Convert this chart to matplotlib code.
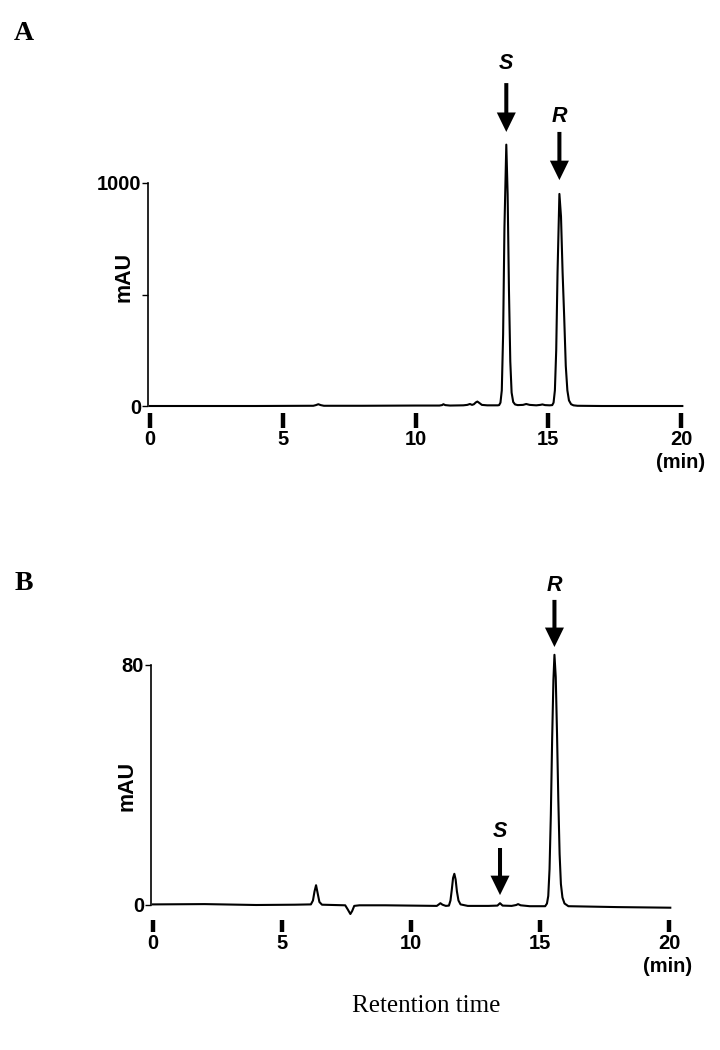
import matplotlib
matplotlib.use("Agg")
import matplotlib.pyplot as plt

# ---------------- data ----------------
# Panel A chromatogram: retention time (min) and absorbance (mAU)
a_time = [0.00, 2.0, 4.0, 6.0, 6.15, 6.25, 6.34, 6.43, 6.55, 8.0, 10.0, 10.9,
          11.0, 11.05, 11.12, 11.3, 11.8, 11.95, 12.05, 12.13, 12.2, 12.27,
          12.33, 12.4, 12.5, 12.7, 12.95, 13.10, 13.15, 13.20, 13.25, 13.30,
          13.35, 13.42, 13.47, 13.52, 13.57, 13.62, 13.68, 13.75, 13.85,
          14.05, 14.17, 14.3, 14.55, 14.7, 14.78, 14.88, 15.05, 15.15, 15.20,
          15.25, 15.30, 15.35, 15.42, 15.48, 15.54, 15.60, 15.66, 15.72,
          15.78, 15.86, 15.95, 16.1, 17.0, 18.5, 20.05]
a_mau = [0, 0, 0, 1, 1, 4, 8, 4, 1, 1, 2, 2,
         4, 8, 4, 2, 3, 5, 9, 5, 8, 16,
         20, 14, 5, 3, 3, 3, 4, 15, 70, 320,
         800, 1172, 950, 520, 200, 60, 18, 7, 4,
         5, 9, 5, 3, 5, 7, 4, 3, 4, 15,
         70, 250, 600, 951, 850, 600, 400, 180, 70,
         25, 8, 3, 1, 0, 0, 0]

# Panel B chromatogram
b_time = [0.00, 2.0, 4.0, 5.5, 6.12, 6.2, 6.26, 6.32, 6.38, 6.45, 6.55, 7.0,
          7.45, 7.55, 7.65, 7.72, 7.8, 8.0, 9.0, 10.0, 11.0, 11.08, 11.14,
          11.22, 11.35, 11.47, 11.53, 11.58, 11.63, 11.68, 11.73, 11.78,
          11.84, 11.92, 12.2, 13.0, 13.35, 13.45, 13.55, 13.9, 14.08, 14.15,
          14.25, 14.6, 15.2, 15.27, 15.32, 15.37, 15.42, 15.47, 15.52, 15.56,
          15.61, 15.66, 15.71, 15.76, 15.81, 15.87, 15.95, 16.1, 18.0, 20.05]
b_mau = [0.2, 0.3, 0.0, 0.1, 0.2, 1.5, 4.5, 6.6, 4.0, 1.0, 0.1, 0.0,
         -0.1, -1.5, -3.0, -2.0, -0.3, -0.1, -0.1, -0.2, -0.3, 0.2, 0.6,
         0.1, -0.3, -0.2, 1.5, 5.0, 9.0, 10.4, 8.5, 4.5,
         1.5, 0.2, -0.3, -0.3, -0.2, 0.6, -0.2, -0.3, 0.0, 0.3,
         -0.1, -0.4, -0.4, 0.5, 3.0, 12.0, 30.0, 55.0, 75.0, 83.4,
         76.0, 57.0, 35.0, 17.0, 7.0, 2.5, 0.5, -0.4, -0.7, -0.9]

x_ticks = [0, 5, 10, 15, 20]
x_ticklabels = ["0", "5", "10", "15", "20"]
a_yticks = [0, 500, 1000]
a_yticklabels = ["0", "", "1000"]
b_yticks = [0, 80]
b_yticklabels = ["0", "80"]

# peak annotations: (label, time, arrow tip, arrow start, label y)
a_marks = [("S", 13.42, 1229, 1448, 1535), ("R", 15.42, 1013, 1229, 1300)]
b_marks = [("R", 15.56, 86.0, 101.7, 106.5), ("S", 13.45, 3.3, 19.0, 24.5)]

# ---------------- layout ----------------
W, H = 720, 1050
fig = plt.figure(figsize=(W / 100, H / 100), dpi=100)

SANS = ["Liberation Sans", "DejaVu Sans"]
SERIF = ["Liberation Serif", "DejaVu Serif"]


def make_axes(px_left, px_right, px_top, px_bottom, x0px, xscale, y0px, yscale):
    ax = fig.add_axes([px_left / W, 1 - px_bottom / H,
                       (px_right - px_left) / W, (px_bottom - px_top) / H])
    ax.set_xlim((px_left - x0px) / xscale, (px_right - x0px) / xscale)
    ax.set_ylim((y0px - px_bottom) / yscale, (y0px - px_top) / yscale)
    return ax


def style(ax, yticks, ylabels, ytop, tick_len):
    for s in ("top", "right", "bottom"):
        ax.spines[s].set_visible(False)
    ax.spines["left"].set_position(("data", -0.08))
    ax.spines["left"].set_bounds(0, ytop)
    ax.spines["left"].set_linewidth(1.2)
    ax.set_xticks(x_ticks)
    ax.set_xticklabels(x_ticklabels, fontfamily=SANS, fontweight="bold",
                       fontsize=14.5)
    ax.tick_params(axis="x", direction="out", length=tick_len, width=3.2,
                   pad=1.5, colors="black")
    ax.set_yticks(yticks)
    ax.set_yticklabels(ylabels, fontfamily=SANS, fontweight="bold",
                       fontsize=14.5)
    ax.tick_params(axis="y", direction="out", length=4, width=1.0, pad=1)
    ax.patch.set_visible(False)


def mark(ax, lab, x, tip, start, ly):
    ax.annotate("", xy=(x, tip), xytext=(x, start),
                arrowprops=dict(width=2.9, headwidth=13.7, headlength=14.0,
                                facecolor="black", edgecolor="black", lw=0,
                                shrink=0.0),
                annotation_clip=False)
    ax.text(x, ly, lab, ha="center", va="center", fontsize=15.5,
            fontweight="bold", fontstyle="italic", fontfamily=SANS)


# Panel A
axA = make_axes(125, 705, 40, 413, 150, 26.55, 406, 0.223)
axA.plot(a_time, a_mau, color="black", lw=1.5, solid_joinstyle="round")
style(axA, a_yticks, a_yticklabels, 1000, 10.8)
for m in a_marks:
    mark(axA, *m)

# Panel B
axB = make_axes(125, 705, 555, 920, 153, 25.8, 905, 3.0)
axB.plot(b_time, b_mau, color="black", lw=1.5, solid_joinstyle="round")
style(axB, b_yticks, b_yticklabels, 80, 8.6)
for m in b_marks:
    mark(axB, *m)

# figure texts
fig.text(681 / W, 1 - 463 / H, "(min)", ha="center", va="center",
         fontsize=14.5, fontweight="bold", fontfamily=SANS)
fig.text(668 / W, 1 - 966 / H, "(min)", ha="center", va="center",
         fontsize=14.5, fontweight="bold", fontfamily=SANS)
fig.text(124 / W, 1 - 277 / H, "mAU", rotation=90, ha="center", va="center",
         fontsize=15.5, fontweight="bold", fontfamily=SANS)
fig.text(127 / W, 1 - 786 / H, "mAU", rotation=90, ha="center", va="center",
         fontsize=15.5, fontweight="bold", fontfamily=SANS)
fig.text(24 / W, 1 - 33 / H, "A", ha="center", va="center", fontsize=20,
         fontweight="bold", fontfamily=SERIF)
fig.text(24 / W, 1 - 583 / H, "B", ha="center", va="center", fontsize=20,
         fontweight="bold", fontfamily=SERIF)
fig.text(426 / W, 1 - 1006 / H, "Retention time", ha="center", va="center",
         fontsize=18, fontfamily=SERIF)

fig.savefig("out.png", dpi=100)
